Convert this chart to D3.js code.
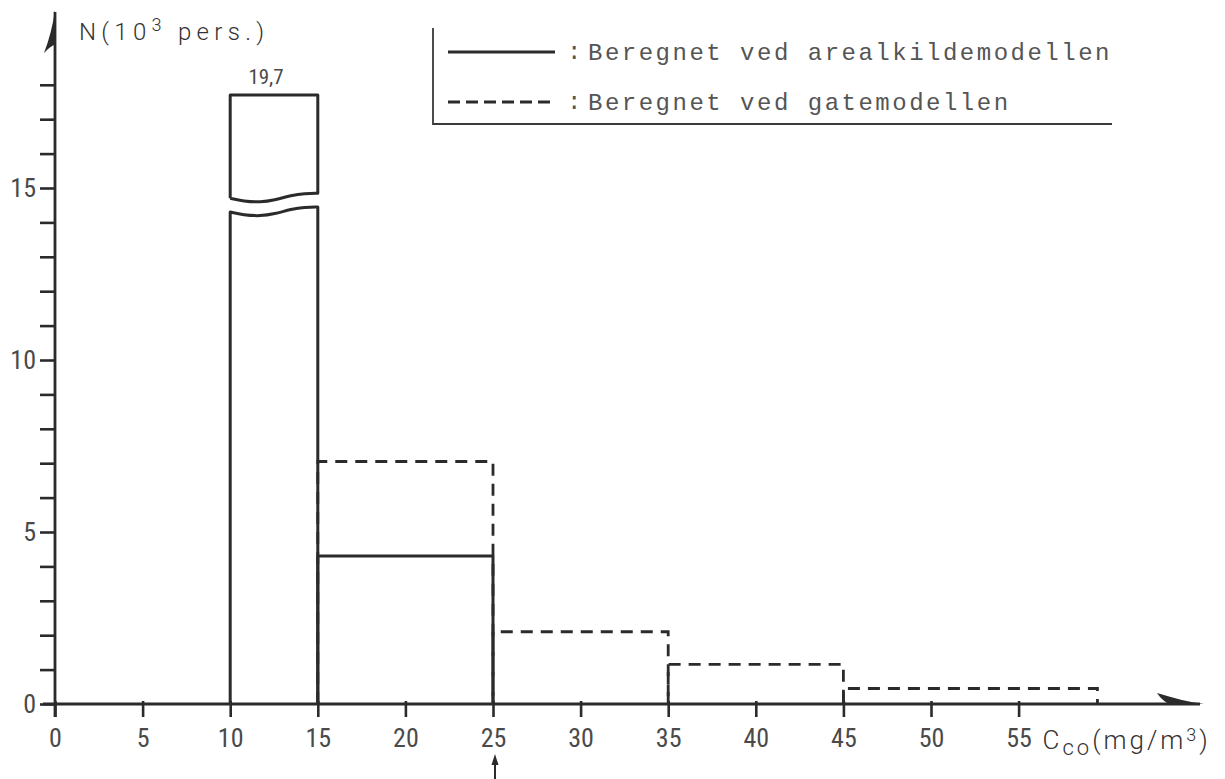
<!DOCTYPE html>
<html>
<head>
<meta charset="utf-8">
<script src="https://cdn.jsdelivr.net/npm/d3@7"></script>
<style>
  body { margin: 0; background: #fff; }
  svg { display: block; }
  .tick-label { font-family: "Liberation Sans Narrow", "Roboto Condensed", Roboto, sans-serif; font-weight: 400; fill: #4a4a4a; }
  .title-label { font-family: Roboto, "Liberation Sans", sans-serif; font-weight: 300; fill: #333; }
  .legend-text { font-family: "Liberation Mono", "DejaVu Sans Mono", monospace; fill: #555; }
</style>
</head>
<body>
<svg id="chart" width="1225" height="779"></svg>
<script>
// CO concentration classes (mg/m3) and number of people exposed (10^3 persons)

// Area-source model (solid outline)
const areaBinStart = [10, 15];
const areaBinEnd   = [15, 25];
const areaValues   = [19.7, 4.3];

// Street model (dashed outline)
const streetBinStart = [15, 25, 35, 45];
const streetBinEnd   = [25, 35, 45, 59.5];
const streetValues   = [7.05, 2.1, 1.15, 0.45];

// Axis ticks
const xTickValues  = [0, 5, 10, 15, 20, 25, 30, 35, 40, 45, 50, 55];
const yTickValues  = d3.range(0, 19);
const yLabelValues = [0, 5, 10, 15];

// The tall 10–15 bar is drawn with an axis break that removes this many units
const breakGap   = 2;
const breakLower = 14.3;
const breakUpper = 14.7;

const legendLabels = ["Beregnet ved arealkildemodellen", "Beregnet ved gatemodellen"];
const markedClass = 25;   // concentration marked with an arrow below the axis

const ink = "#2b2b2b";
const svg = d3.select("#chart");

const x = d3.scaleLinear().domain([0, 60]).range([55, 55 + 60 * 17.52]);
const y = d3.scaleLinear().domain([0, 18]).range([704, 704 - 18 * 34.4]);

// ---------- Axes ----------
const yAxis = d3.axisLeft(y)
  .tickValues(yTickValues)
  .tickSize(15)
  .tickPadding(4)
  .tickFormat(d => yLabelValues.includes(d) ? d : "");
const gy = svg.append("g").attr("transform", `translate(${x(0)},0)`).call(yAxis);
gy.select(".domain").remove();
gy.selectAll(".tick line").attr("stroke", ink).attr("stroke-width", 2.6);
gy.selectAll(".tick text").attr("class", "tick-label").attr("font-size", 26);

const xAxis = d3.axisBottom(x)
  .tickValues(xTickValues)
  .tickSize(13)
  .tickPadding(12)
  .tickFormat(d => d);
const gx = svg.append("g").attr("transform", `translate(0,${y(0)})`).call(xAxis);
gx.select(".domain").remove();
gx.selectAll(".tick line").attr("y1", -3).attr("stroke", ink).attr("stroke-width", 2.6);
gx.selectAll(".tick text").attr("class", "tick-label").attr("font-size", 26);

// axis lines
svg.append("line")
  .attr("x1", x(0)).attr("x2", x(0))
  .attr("y1", y(0) + 13).attr("y2", 12)
  .attr("stroke", ink).attr("stroke-width", 2.8);
svg.append("line")
  .attr("x1", x(0) - 12).attr("x2", 1200)
  .attr("y1", y(0)).attr("y2", y(0))
  .attr("stroke", ink).attr("stroke-width", 2.8);

// half arrow heads at the axis ends
const ax0 = x(0), ay0 = y(0);
svg.append("path")
  .attr("d", `M${ax0},10 C${ax0 - 2},25 ${ax0 - 6},40 ${ax0 - 11},53 L${ax0 - 8},50 C${ax0 - 5},47 ${ax0 - 2},45 ${ax0},45 Z`)
  .attr("fill", ink);
svg.append("path")
  .attr("d", `M1204,${ay0} C1189,${ay0 - 2} 1173,${ay0 - 6} 1157,${ay0 - 11} L1160,${ay0 - 7} C1163,${ay0 - 4} 1166,${ay0 - 1} 1170,${ay0} Z`)
  .attr("fill", ink);

// axis titles
const yTitle = svg.append("text")
  .attr("class", "title-label")
  .attr("x", 79).attr("y", 40)
  .attr("font-size", 24)
  .attr("letter-spacing", 5.3);
yTitle.append("tspan").text("N(10");
yTitle.append("tspan").attr("dy", -9).attr("font-size", 18).text("3");
yTitle.append("tspan").attr("dy", 9).text(" pers.)");

const xTitle = svg.append("text")
  .attr("class", "title-label")
  .attr("x", x(55) + 24).attr("y", y(0) + 45)
  .attr("font-size", 26)
  .attr("letter-spacing", 3);
xTitle.append("tspan").text("C");
xTitle.append("tspan").attr("dy", 6).attr("font-size", 22).text("co");
xTitle.append("tspan").attr("dy", -6).text("(mg/m");
xTitle.append("tspan").attr("dy", -8).attr("font-size", 18).text("3");
xTitle.append("tspan").attr("dy", 8).text(")");

// arrow marking a concentration below the axis
const mx = x(markedClass) + 2;
svg.append("line")
  .attr("x1", mx).attr("x2", mx)
  .attr("y1", 779).attr("y2", 762)
  .attr("stroke", ink).attr("stroke-width", 2);
svg.append("path")
  .attr("d", `M${mx},754 L${mx - 3.5},765 L${mx + 3.5},765 Z`)
  .attr("fill", ink);

// ---------- Street model (dashed) ----------
const streetBins = streetValues.map((v, i) => ({ x0: streetBinStart[i], x1: streetBinEnd[i], v }));
svg.append("g").selectAll("path")
  .data(streetBins)
  .join("path")
  .attr("d", d => `M${x(d.x0)},${y(0)} V${y(d.v)} H${x(d.x1)} V${y(0)}`)
  .attr("fill", "none")
  .attr("stroke", ink)
  .attr("stroke-width", 2.8)
  .attr("stroke-dasharray", "12 8");

// ---------- Area-source model (solid) ----------
const areaBins = areaValues.map((v, i) => ({ x0: areaBinStart[i], x1: areaBinEnd[i], v }));
const solid = svg.append("g")
  .attr("fill", "none")
  .attr("stroke", ink)
  .attr("stroke-width", 3)
  .attr("stroke-linejoin", "round");

// wavy break line across a bar
const waveShape = [[0, 0], [0.15, 3], [0.35, 4], [0.5, 2], [0.7, -3], [0.85, -5], [1, -5]];
const waveLine = d3.line().curve(d3.curveBasis);
function wave(d, level) {
  const w = x(d.x1) - x(d.x0);
  return waveShape.map(([t, o]) => [x(d.x0) + t * w, y(level) + o]);
}

areaBins.forEach(d => {
  if (d.v > y.domain()[1]) {
    // lower piece: from the axis up to the break
    const lo = wave(d, breakLower);
    solid.append("path")
      .attr("d", `M${x(d.x0)},${y(0)} V${lo[0][1]}` + waveLine(lo).replace(/^M/, "L") + ` V${y(0)}`);
    // upper piece: from the break up to the value shown above the break
    const hi = wave(d, breakUpper);
    const top = y(d.v - breakGap);
    solid.append("path")
      .attr("d", waveLine(hi) + ` V${top} H${x(d.x0)} V${hi[0][1]}`);
    svg.append("text")
      .attr("class", "tick-label")
      .attr("x", (x(d.x0) + x(d.x1)) / 2 - 8)
      .attr("y", top - 11)
      .attr("text-anchor", "middle")
      .attr("font-size", 21)
      .text(d3.format(".1f")(d.v).replace(".", ","));
  } else {
    solid.append("path")
      .attr("d", `M${x(d.x0)},${y(0)} V${y(d.v)} H${x(d.x1)} V${y(0)}`);
  }
});

// ---------- Legend ----------
const lg = svg.append("g").attr("stroke", "#3a3a3a");
lg.append("path")
  .attr("d", "M433,28 V124 H1112")
  .attr("fill", "none")
  .attr("stroke-width", 1.8);
const legendRows = [
  { label: legendLabels[0], dash: null, yy: 52 },
  { label: legendLabels[1], dash: "12 6", yy: 102 }
];
legendRows.forEach(r => {
  lg.append("line")
    .attr("x1", 448).attr("x2", 555)
    .attr("y1", r.yy).attr("y2", r.yy)
    .attr("stroke", ink)
    .attr("stroke-width", 3)
    .attr("stroke-dasharray", r.dash);
  svg.append("text")
    .attr("class", "legend-text")
    .attr("x", 567).attr("y", r.yy + 7)
    .attr("font-size", 24)
    .text(":");
  svg.append("text")
    .attr("class", "legend-text")
    .attr("x", 588).attr("y", r.yy + 8)
    .attr("font-size", 24)
    .attr("letter-spacing", 2.5)
    .text(r.label);
});
</script>
</body>
</html>
